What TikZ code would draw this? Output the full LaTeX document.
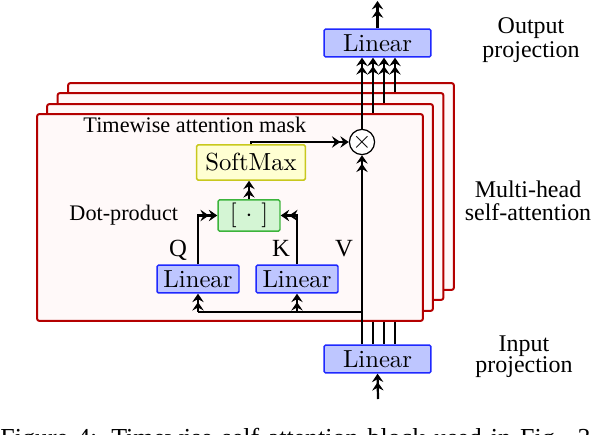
\documentclass[tikz,border=0pt]{standalone}
\usepackage{fontspec}
\newfontfamily\timesf{Liberation Serif}
\usetikzlibrary{arrows.meta}
\definecolor{bblue}{RGB}{30,40,255}
\definecolor{bbluef}{RGB}{190,198,255}
\definecolor{byel}{RGB}{200,200,30}
\definecolor{byelf}{RGB}{255,255,210}
\definecolor{bgrn}{RGB}{60,180,60}
\definecolor{bgrnf}{RGB}{212,245,212}
\definecolor{lred}{RGB}{180,0,0}
\definecolor{lredf}{RGB}{255,249,249}
\tikzset{
  boxbase/.style={line width=0.6pt, inner sep=0pt, rounded corners=0.6pt, font=\fontsize{10}{12}\selectfont},
  linbox/.style={boxbase, draw=bblue, fill=bbluef},
  layerbox/.style={draw=lred, fill=lredf, line width=0.8pt, rounded corners=1pt, minimum width=156.3pt, minimum height=83.8pt, inner sep=0pt},
  conn/.style={line width=0.9pt, -{Stealth[length=3.4pt,width=4.6pt,inset=1.2pt]Stealth[length=3.4pt,width=4.6pt,inset=1.2pt]}},
  plain/.style={line width=0.9pt},
  lbl/.style={font=\timesf\fontsize{9}{10}\selectfont, inner sep=0pt},
  side/.style={inner sep=0pt, align=center},
}
\begin{document}
\begin{tikzpicture}[x=0.405pt,y=-0.405pt]
\useasboundingbox (0,0) rectangle (598,434);
% layers
\node[layerbox] (L4) at (261,186.5) {};
\node[layerbox] (L3) at (250.5,196.5) {};
\node[layerbox] (L2) at (240,207.5) {};
\node[layerbox] (L1) at (230,217.5) {};
% projection boxes
\node[linbox, minimum width=43.3pt, minimum height=11.3pt] (out) at (377.5,43) {Linear};
\node[linbox, minimum width=43.3pt, minimum height=11.3pt] (in) at (377.5,359) {Linear};
% inner boxes
\node[boxbase, draw=byel, fill=byelf, minimum width=44.1pt, minimum height=14.2pt] (soft) at (251,162.5) {SoftMax};
\node[boxbase, draw=bgrn, fill=bgrnf, minimum width=25.1pt, minimum height=12.6pt] (dot) at (249,215.5) {[\hspace{3.6pt}$\cdot$\hspace{3.6pt}]};
\node[linbox, minimum width=33.2pt, minimum height=11.3pt] (lq) at (198,279) {Linear};
\node[linbox, minimum width=33.2pt, minimum height=11.3pt] (lk) at (297,279) {Linear};
\node[circle, draw, fill=white, line width=0.5pt, minimum size=8.5pt, inner sep=0pt] (mul) at (362,142) {$\times$};
% labels
\node[lbl, anchor=base west] (tmask) at (83,133) {Timewise attention mask};
\node[lbl, anchor=base west] (dotlbl) at (69,221) {Dot-product};
\node[font=\timesf\fontsize{10}{12}\selectfont, inner sep=0pt, anchor=base] (ql) at (178,256) {Q};
\node[font=\timesf\fontsize{10}{12}\selectfont, inner sep=0pt, anchor=base] (kl) at (281,256) {K};
\node[font=\timesf\fontsize{10}{12}\selectfont, inner sep=0pt, anchor=base] (vl) at (344,256) {V};
\node[side, font=\timesf\fontsize{9.7}{8.3}\selectfont] (op) at (531,40) {Output\\projection};
\node[side, font=\timesf\fontsize{9.7}{9.3}\selectfont] (mh) at (528,200.5) {Multi-head\\self-attention};
\node[side, font=\timesf\fontsize{9.7}{8.5}\selectfont] (ip) at (524,357) {Input\\projection};
% coordinates
\coordinate (c2) at (373,0);
\coordinate (c3) at (384,0);
\coordinate (c4) at (395,0);
\coordinate (topend) at (378,1);
\coordinate (botend) at (378,399);
\coordinate (br) at (0,312);
% connectors
\draw[conn] (out.north) -- (out.north |- topend);
\draw[conn] (botend) -- (in.south);
\draw[conn] (mul.north) -- (mul.north |- out.south);
\draw[conn] (L1.north -| c2) -- (out.south -| c2);
\draw[conn] (L2.north -| c3) -- (out.south -| c3);
\draw[conn] (L3.north -| c4) -- (out.south -| c4);
\draw[plain] (L1.south -| c2) -- (in.north -| c2);
\draw[plain] (L1.south -| c3) -- (in.north -| c3);
\draw[plain] (L1.south -| c4) -- (in.north -| c4);
\draw[conn] (in.north -| mul) -- (mul.south);
\draw[plain] (mul |- br) -- (lq |- br);
\draw[conn] (lq |- br) -- (lq.south);
\draw[conn] (lk |- br) -- (lk.south);
\draw[conn] (lq.north) |- (dot.west);
\draw[conn] (lk.north) |- (dot.east);
\draw[conn] (dot.north) -- (dot.north |- soft.south);
\draw[conn] (soft.north) |- (mul.west);
% caption (cut off at the bottom edge)
\node[font=\timesf\fontsize{10.5}{12}\selectfont, anchor=base west, inner sep=0pt] (cap) at (0,446) {\makebox[239pt][s]{Figure 4: Timewise self-attention block used in Fig. 3}};
\end{tikzpicture}
\end{document}
